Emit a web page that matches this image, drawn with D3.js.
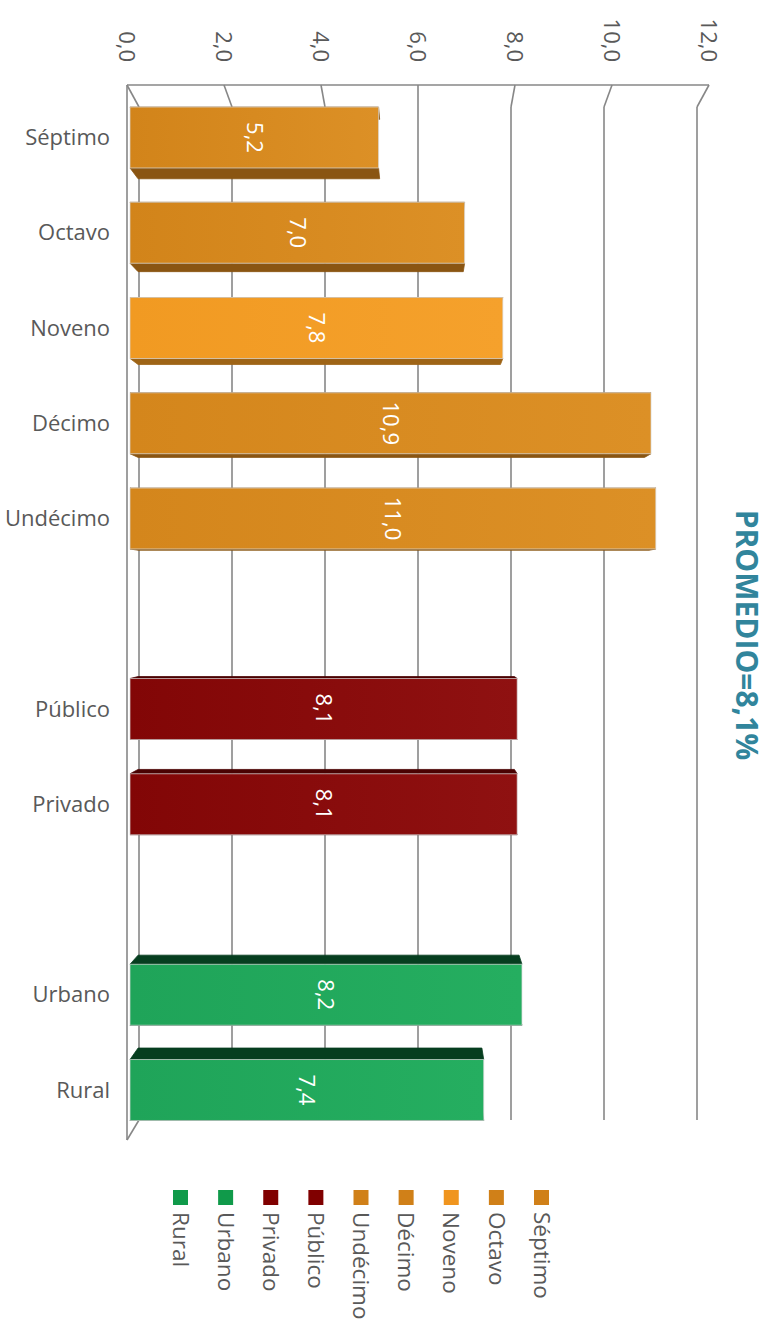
<!DOCTYPE html>
<html>
<head>
<meta charset="utf-8">
<script src="https://cdn.jsdelivr.net/npm/d3@7"></script>
<style>
  html, body { margin: 0; padding: 0; background: #fff; }
  svg { display: block; font-family: "Open Sans", "Liberation Sans", sans-serif; }
</style>
</head>
<body>
<svg id="chart" width="775" height="1325"></svg>
<script>
// ---------- DATA ----------
const categories = ["Séptimo", "Octavo", "Noveno", "Décimo", "Undécimo", "Público", "Privado", "Urbano", "Rural"];
const values = [5.2, 7.0, 7.8, 10.9, 11.0, 8.1, 8.1, 8.2, 7.4];
const slots = ["Séptimo", "Octavo", "Noveno", "Décimo", "Undécimo", "gap1", "Público", "Privado", "gap2", "Urbano", "Rural"];
const tickValues = [0, 2, 4, 6, 8, 10, 12];
const legendOrder = ["Rural", "Urbano", "Privado", "Público", "Undécimo", "Décimo", "Noveno", "Octavo", "Séptimo"];
const averageLabel = "PROMEDIO=8,1%";

// ---------- STYLES ----------
const palette = {
  "Séptimo":  { a: "#d2841a", b: "#dc9026", dark: "#8a5512", legend: "#d08018" },
  "Octavo":   { a: "#d2841a", b: "#dc9026", dark: "#8a5512", legend: "#d08018" },
  "Noveno":   { a: "#f19a22", b: "#f5a12c", dark: "#9e6416", legend: "#f0951e" },
  "Décimo":   { a: "#d4861c", b: "#dc9026", dark: "#8a5512", legend: "#d08018" },
  "Undécimo": { a: "#d4861c", b: "#dc9026", dark: "#8a5512", legend: "#d08018" },
  "Público":  { a: "#820606", b: "#8f1111", dark: "#4a0202", legend: "#800000" },
  "Privado":  { a: "#820606", b: "#8f1111", dark: "#4a0202", legend: "#800000" },
  "Urbano":   { a: "#1fa459", b: "#25ae60", dark: "#063e1f", legend: "#109a4a" },
  "Rural":    { a: "#1fa459", b: "#25ae60", dark: "#063e1f", legend: "#109a4a" }
};
const gridColor = "#878787";
const textColor = "#595959";

const svg = d3.select("#chart");

// ---------- SCALES ----------
const y = d3.scalePoint().domain(slots).range([137.5, 1090]);
const barH = y.step() * 0.64;
const xBar = d3.scaleLinear().domain([0, 12]).range([130, 703.6]);   // front face of bars
const xFar = d3.scaleLinear().domain([0, 12]).range([139, 697]);   // back wall
const xNear = d3.scaleLinear().domain([0, 12]).range([127, 709]);  // near edge of side wall

const yNearTop = 85, yFarTop = 107, yFarBot = 1120, yNearBot = 1140;
const vx = xFar(6), vy = 600;  // vanishing point for the bar depth
const back = (px, py) => [px + (vx - px) * 0.028, py + (vy - py) * 0.025];

// ---------- GRADIENTS ----------
const defs = svg.append("defs");
categories.forEach((c, i) => {
  const g = defs.append("linearGradient").attr("id", "grad" + i)
    .attr("x1", "0%").attr("x2", "100%").attr("y1", "0%").attr("y2", "0%");
  g.append("stop").attr("offset", "0%").attr("stop-color", palette[c].a);
  g.append("stop").attr("offset", "100%").attr("stop-color", palette[c].b);
});

// ---------- WALLS / GRIDLINES ----------
const walls = svg.append("g").attr("stroke", gridColor).attr("stroke-width", 1.6).attr("fill", "none");
walls.append("line").attr("x1", xNear(0)).attr("x2", xNear(12)).attr("y1", yNearTop).attr("y2", yNearTop);
walls.selectAll(".slant").data(tickValues).join("line")
  .attr("x1", d => xNear(d)).attr("y1", yNearTop)
  .attr("x2", d => xFar(d)).attr("y2", yFarTop);
walls.selectAll(".vert").data(tickValues).join("line")
  .attr("x1", d => xFar(d)).attr("x2", d => xFar(d))
  .attr("y1", yFarTop).attr("y2", yFarBot);
walls.append("line").attr("x1", xNear(0)).attr("x2", xNear(0)).attr("y1", yNearTop).attr("y2", yNearBot);
walls.append("line").attr("x1", xNear(0)).attr("y1", yNearBot).attr("x2", xFar(0)).attr("y2", yFarBot);

// ---------- TICK LABELS ----------
svg.append("g").selectAll("text").data(tickValues).join("text")
  .attr("transform", d => `translate(${xNear(d)},62) rotate(90)`)
  .attr("text-anchor", "end").attr("dy", "0.35em")
  .attr("font-size", 22).attr("fill", textColor)
  .text(d => d3.format(".1f")(d).replace(".", ","));

// ---------- BARS ----------
const data = categories.map((c, i) => ({ c, v: values[i], i }));
const bars = svg.append("g").selectAll("g").data(data).join("g");

bars.each(function(d) {
  const g = d3.select(this);
  const x0 = xBar(0), x1 = xBar(d.v);
  const yt = y(d.c) - barH / 2, yb = y(d.c) + barH / 2;
  const faces = [
    [[x0, yb], [x1, yb], back(x1, yb), back(x0, yb)],
    [[x0, yt], [x1, yt], back(x1, yt), back(x0, yt)]
  ];
  faces.forEach(f => {
    g.append("polygon").attr("points", f.map(p => p.join(",")).join(" "))
      .attr("fill", palette[d.c].dark)
      .attr("stroke", palette[d.c].dark).attr("stroke-width", 0.8);
  });
  g.append("rect")
    .attr("x", x0).attr("y", yt).attr("width", x1 - x0).attr("height", barH)
    .attr("fill", `url(#grad${d.i})`)
    .attr("stroke", "#d8d8d8").attr("stroke-opacity", 0.7).attr("stroke-width", 1);
  g.append("text")
    .attr("transform", `translate(${(x0 + x1) / 2},${y(d.c)}) rotate(90)`)
    .attr("text-anchor", "middle").attr("dy", "0.35em")
    .attr("font-size", 22).attr("fill", "#ffffff")
    .text(d3.format(".1f")(d.v).replace(".", ","));
});

// ---------- CATEGORY LABELS ----------
svg.append("g").selectAll("text").data(categories).join("text")
  .attr("x", 110).attr("y", d => y(d)).attr("dy", "0.35em")
  .attr("text-anchor", "end").attr("font-size", 22).attr("fill", textColor)
  .text(d => d);

// ---------- AVERAGE LABEL ----------
svg.append("text")
  .attr("transform", "translate(746,635) rotate(90)")
  .attr("text-anchor", "middle").attr("dy", "0.35em")
  .attr("font-size", 30).attr("font-weight", "bold").attr("fill", "#31859c")
  .text(averageLabel);

// ---------- LEGEND ----------
const lx = d3.scalePoint().domain(legendOrder).range([180.5, 541.5]);
const legend = svg.append("g").selectAll("g").data(legendOrder).join("g")
  .attr("transform", d => `translate(${lx(d)},0)`);
legend.append("rect").attr("x", -7.5).attr("y", 1190).attr("width", 15).attr("height", 15)
  .attr("fill", d => palette[d].legend);
legend.append("text")
  .attr("transform", "translate(0,1212) rotate(90)")
  .attr("dy", "0.35em").attr("font-size", 22.5).attr("fill", textColor)
  .text(d => d);
</script>
</body>
</html>
